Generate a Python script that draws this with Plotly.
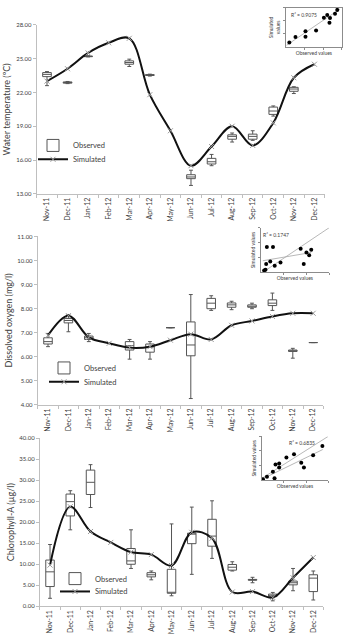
import plotly.graph_objects as go

W, H = 343, 636
def dx(p): return p / W
def dy(p): return 1 - p / H

months = ["Nov-11", "Dec-11", "Jan-12", "Feb-12", "Mar-12", "Apr-12", "May-12",
          "Jun-12", "Jul-12", "Aug-12", "Sep-12", "Oct-12", "Nov-12", "Dec-12"]

# ---- Water temperature ----
temp_sim = [23.0, 24.1, 25.5, 26.4, 26.8, 21.8, 18.6, 15.5, 17.2, 19.0, 17.3, 19.3, 23.3, 24.5]
temp_box_months = ["Nov-11", "Dec-11", "Jan-12", "Mar-12", "Apr-12", "Jun-12", "Jul-12",
                   "Aug-12", "Sep-12", "Oct-12", "Nov-12"]
temp_q1 = [23.4, 22.82, 25.17, 24.5, 23.5, 14.35, 15.65, 17.85, 17.85, 20.05, 22.1]
temp_med = [23.6, 22.88, 25.2, 24.65, 23.55, 14.5, 15.85, 18.1, 18.1, 20.35, 22.3]
temp_q3 = [23.76, 22.93, 25.22, 24.8, 23.58, 14.7, 16.15, 18.24, 18.3, 20.7, 22.45]
temp_lo = [22.6, 22.78, 25.15, 24.3, 23.45, 13.75, 15.5, 17.6, 17.75, 19.9, 21.9]
temp_hi = [23.85, 22.97, 25.25, 24.95, 23.62, 15.1, 16.5, 18.4, 18.6, 20.8, 22.5]

# ---- Dissolved oxygen ----
do_sim = [6.88, 7.7, 6.8, 6.55, 6.37, 6.41, 6.68, 6.93, 6.71, 7.3, 7.48, 7.67, 7.8, 7.8]
do_box_months = ["Nov-11", "Dec-11", "Jan-12", "Mar-12", "Apr-12", "May-12", "Jun-12",
                 "Jul-12", "Aug-12", "Sep-12", "Oct-12", "Nov-12", "Dec-12"]
do_q1 = [6.52, 7.4, 6.71, 6.27, 6.18, 7.2, 6.03, 7.99, 8.05, 8.05, 8.12, 6.21, 6.58]
do_med = [6.62, 7.5, 6.78, 6.45, 6.4, 7.2, 6.48, 8.22, 8.15, 8.08, 8.22, 6.24, 6.58]
do_q3 = [6.78, 7.58, 6.85, 6.62, 6.52, 7.2, 7.44, 8.42, 8.23, 8.15, 8.36, 6.27, 6.58]
do_lo = [6.41, 7.03, 6.62, 5.89, 5.89, 7.2, 4.25, 7.92, 7.95, 7.99, 7.92, 5.93, 6.58]
do_hi = [6.96, 7.75, 6.96, 6.71, 6.62, 7.2, 8.58, 8.53, 8.3, 8.22, 8.64, 6.34, 6.58]

# ---- Chlorophyll-A ----
chl_sim = [9.8, 23.7, 17.8, 15.2, 12.9, 12.3, 9.7, 17.6, 16.2, 3.4, 3.5, 2.1, 6.8, 11.6]
chl_box_months = ["Nov-11", "Dec-11", "Jan-12", "Mar-12", "Apr-12", "May-12", "Jun-12",
                  "Jul-12", "Aug-12", "Sep-12", "Oct-12", "Nov-12", "Dec-12"]
chl_q1 = [4.7, 21.5, 26.6, 10.0, 7.0, 3.1, 14.9, 14.3, 8.6, 6.2, 2.3, 5.1, 3.5]
chl_med = [8.2, 24.9, 29.5, 10.8, 7.5, 3.3, 17.2, 16.7, 9.3, 6.3, 2.6, 5.6, 6.7]
chl_q3 = [11.0, 26.7, 32.4, 13.75, 8.0, 8.8, 17.4, 20.7, 9.95, 6.4, 2.9, 6.0, 7.5]
chl_lo = [1.9, 18.2, 23.5, 9.0, 6.3, 2.5, 7.6, 11.4, 8.4, 5.6, 1.3, 3.7, 1.5]
chl_hi = [14.7, 27.5, 33.7, 18.2, 8.4, 19.6, 23.6, 25.1, 10.6, 6.9, 3.3, 9.0, 8.4]

# ---- Insets (observed vs simulated, relative units 0-10) ----
inset1_obs = [0.6, 1.7, 3.5, 3.5, 5.4, 6.8, 7.4, 7.9, 7.8, 8.8, 9.2]
inset1_sim = [1.1, 2.5, 4.0, 2.6, 4.2, 7.5, 8.2, 7.4, 6.2, 8.5, 9.5]
inset1_fit_x = [0.1, 9.7]
inset1_fit_y = [0.4, 9.75]

inset2_obs = [0.5, 0.7, 0.8, 1.4, 0.9, 1.8, 2.05, 2.9, 5.85, 6.3, 6.7, 7.1, 7.4]
inset2_sim = [0.4, 0.6, 1.85, 2.45, 5.7, 5.7, 1.5, 2.2, 5.3, 1.85, 4.45, 3.85, 5.05]
inset2_one_x = [0.3, 10]
inset2_one_y = [0.0, 10]
inset2_fit_x = [0.3, 7.4]
inset2_fit_y = [2.6, 4.45]

inset3_obs = [0.15, 0.75, 1.65, 1.9, 2.05, 2.6, 2.6, 3.7, 4.85, 5.95, 6.35, 7.75, 9.15]
inset3_sim = [0.15, 0.75, 1.9, 0.4, 3.55, 3.8, 2.9, 5.15, 5.9, 3.95, 2.9, 5.7, 7.8]
inset3_one_x = [0.0, 10]
inset3_one_y = [0.4, 10]
inset3_fit_x = [0.0, 9.2]
inset3_fit_y = [0.2, 7.0]

FONT = "Lato"
TXT = "#404040"
AX = "#bfbfbf"

fig = go.Figure()

panels = [
    dict(ax="", sim=temp_sim, bm=temp_box_months, q1=temp_q1, med=temp_med, q3=temp_q3,
         lo=temp_lo, hi=temp_hi, lb="legend", ll="legend4"),
    dict(ax="2", sim=do_sim, bm=do_box_months, q1=do_q1, med=do_med, q3=do_q3,
         lo=do_lo, hi=do_hi, lb="legend2", ll="legend5"),
    dict(ax="3", sim=chl_sim, bm=chl_box_months, q1=chl_q1, med=chl_med, q3=chl_q3,
         lo=chl_lo, hi=chl_hi, lb="legend3", ll="legend6"),
]

for p in panels:
    fig.add_trace(go.Box(
        x=p["bm"], q1=p["q1"], median=p["med"], q3=p["q3"],
        lowerfence=p["lo"], upperfence=p["hi"],
        name="Observed", boxpoints=False, width=0.42, whiskerwidth=0.45,
        line=dict(color="#555555", width=1), fillcolor="white",
        xaxis="x" + p["ax"], yaxis="y" + p["ax"], legend=p["lb"],
        hoverinfo="skip"))
    fig.add_trace(go.Scatter(
        x=months, y=p["sim"], name="Simulated", mode="lines+markers",
        line=dict(color="#111111", width=2, shape="spline", smoothing=1.0),
        marker=dict(symbol="x-thin", size=5, line=dict(color="#9a9a9a", width=1)),
        xaxis="x" + p["ax"], yaxis="y" + p["ax"], legend=p["ll"]))

# insets
insets = [
    dict(ax="4", ox=inset1_obs, sy=inset1_sim, lines=[(inset1_fit_x, inset1_fit_y)]),
    dict(ax="5", ox=inset2_obs, sy=inset2_sim,
         lines=[(inset2_one_x, inset2_one_y), (inset2_fit_x, inset2_fit_y)]),
    dict(ax="6", ox=inset3_obs, sy=inset3_sim,
         lines=[(inset3_one_x, inset3_one_y), (inset3_fit_x, inset3_fit_y)]),
]
for ins in insets:
    for lx, ly in ins["lines"]:
        fig.add_trace(go.Scatter(x=lx, y=ly, mode="lines", showlegend=False,
                                 line=dict(color="#a6a6a6", width=0.8),
                                 xaxis="x" + ins["ax"], yaxis="y" + ins["ax"]))
    fig.add_trace(go.Scatter(x=ins["ox"], y=ins["sy"], mode="markers", showlegend=False,
                             marker=dict(color="black", size=4),
                             xaxis="x" + ins["ax"], yaxis="y" + ins["ax"]))

def xax(dom, anchor):
    return dict(domain=[dx(dom[0]), dx(dom[1])], anchor=anchor, type="category",
                categoryorder="array", categoryarray=months, range=[-0.5, 13.5],
                showgrid=False, zeroline=False, showline=True, linecolor=AX, linewidth=1,
                ticks="outside", ticklen=3, tickcolor=AX, tickson="boundaries",
                tickangle=-90, tickfont=dict(size=7, color=TXT, family=FONT))

def yax(dom, anchor, rng, dt, title):
    return dict(domain=[dy(dom[0]), dy(dom[1])], anchor=anchor, range=rng, dtick=dt,
                tick0=rng[0], tickformat=".2f", showgrid=False, zeroline=False,
                showline=True, linecolor=AX, linewidth=1, ticks="outside", ticklen=3,
                tickcolor=AX, tickfont=dict(size=6, color=TXT, family=FONT),
                title=dict(text=title, font=dict(size=9, color=TXT, family=FONT), standoff=3))

def ixax(dom, anchor, title, mirror):
    return dict(domain=[dx(dom[0]), dx(dom[1])], anchor=anchor, range=[0, 10],
                showgrid=False, zeroline=False, showline=True, linecolor="#8c8c8c",
                linewidth=0.8, mirror=mirror, ticks="outside", ticklen=2, tickcolor="#8c8c8c",
                tickvals=[3.33, 6.67, 10], showticklabels=False,
                title=dict(text=title, font=dict(size=5, color=TXT, family=FONT), standoff=2))

def iyax(dom, anchor, title, mirror):
    return dict(domain=[dy(dom[0]), dy(dom[1])], anchor=anchor, range=[0, 10],
                showgrid=False, zeroline=False, showline=True, linecolor="#8c8c8c",
                linewidth=0.8, mirror=mirror, ticks="outside", ticklen=2, tickcolor="#8c8c8c",
                tickvals=[3.33, 6.67, 10], showticklabels=False,
                title=dict(text=title, font=dict(size=5, color=TXT, family=FONT), standoff=2))

leg = dict(font=dict(size=7.5, color=TXT, family=FONT), bgcolor="rgba(0,0,0,0)",
           xanchor="left", yanchor="middle", itemwidth=30, tracegroupgap=0)

fig.update_layout(
    width=W, height=H, margin=dict(l=0, r=0, t=0, b=0),
    paper_bgcolor="white", plot_bgcolor="white",
    font=dict(family=FONT, color=TXT),
    xaxis=xax((36.7, 324.7), "y"),
    yaxis=yax((192, 21), "x", [13, 28], 3, "Water temperature (ºC)"),
    xaxis2=xax((37.8, 323.4), "y2"),
    yaxis2=yax((405, 235), "x2", [4, 11], 1, "Dissolved oxygen (mg/l)"),
    xaxis3=xax((39.9, 323.4), "y3"),
    yaxis3=yax((609, 439), "x3", [0, 40], 5, "Chlorophyll-A (µg/l)"),
    xaxis4=ixax((286, 341.7), "y4", "Observed values", True),
    yaxis4=iyax((43.3, 4), "x4", "Simulated<br>values", True),
    xaxis5=ixax((260.7, 329), "y5", "Observed values", False),
    yaxis5=iyax((271.3, 226.3), "x5", "Simulated values", False),
    xaxis6=ixax((262, 328), "y6", "Observed values", False),
    yaxis6=iyax((481.3, 437.3), "x6", "Simulated values", False),
    legend=dict(leg, x=dx(33), y=dy(143)),
    legend4=dict(leg, x=dx(33), y=dy(157)),
    legend2=dict(leg, x=dx(44), y=dy(368)),
    legend5=dict(leg, x=dx(44), y=dy(382)),
    legend3=dict(leg, x=dx(55), y=dy(581)),
    legend6=dict(leg, x=dx(55), y=dy(594)),
    showlegend=True,
    annotations=[
        dict(text="R² = 0.9075", xref="x4 domain", yref="y4 domain", x=0.05, y=0.82,
             xanchor="left", yanchor="middle", showarrow=False, font=dict(size=5, color=TXT)),
        dict(text="R² = 0.1747", xref="x5 domain", yref="y5 domain", x=0.01, y=0.83,
             xanchor="left", yanchor="middle", showarrow=False, font=dict(size=5, color=TXT)),
        dict(text="R² = 0.6835", xref="x6 domain", yref="y6 domain", x=0.38, y=0.86,
             xanchor="left", yanchor="middle", showarrow=False, font=dict(size=5, color=TXT)),
    ],
)

fig.write_html("out.html")
